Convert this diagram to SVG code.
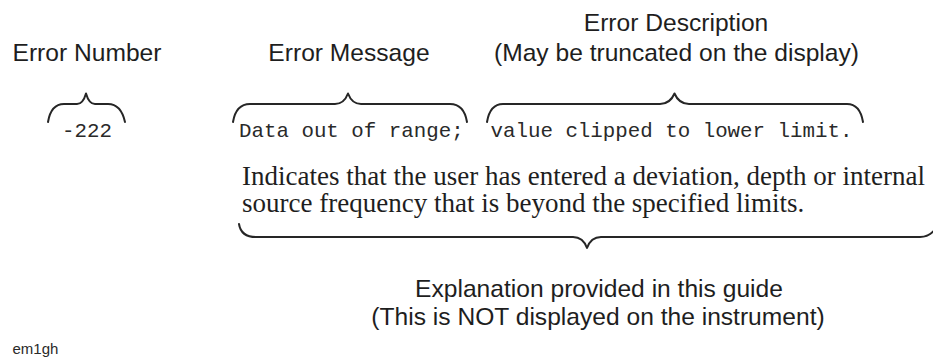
<svg xmlns="http://www.w3.org/2000/svg" width="933" height="358" viewBox="0 0 933 358">
<style>
.h{font-family:"Liberation Sans",Arial,sans-serif;font-size:24.6px;fill:#1e1e1e;text-anchor:middle}
.m{font-family:"Liberation Mono","Courier New",monospace;font-size:20.8px;fill:#2a2a2a}
.s{font-family:"Liberation Serif","Times New Roman",serif;font-size:27px;fill:#1e1e1e}
.f{font-family:"Liberation Sans",Arial,sans-serif;font-size:15px;fill:#2a2a2a}
.b{fill:none;stroke:#262626;stroke-width:2;stroke-linecap:round;stroke-linejoin:round}
</style>
<rect width="933" height="358" fill="#ffffff"/>
<g id="error-number">
<text class="h" x="87" y="61">Error Number</text>
<text class="m" x="62" y="137">-222</text>
</g>
<g id="error-message">
<text class="h" x="349" y="61">Error Message</text>
<text class="m" x="239" y="137">Data out of range;</text>
</g>
<g id="error-description">
<text class="h" x="676" y="31">Error Description</text>
<text class="h" x="676.5" y="61">(May be truncated on the display)</text>
<text class="m" x="490.5" y="137">value clipped to lower limit.</text>
</g>
<g id="explanation-text">
<text class="s" x="242" y="185">Indicates that the user has entered a deviation, depth or internal</text>
<text class="s" x="242" y="212">source frequency that is beyond the specified limits.</text>
</g>
<g id="explanation-label">
<text class="h" x="599" y="297">Explanation provided in this guide</text>
<text class="h" x="598" y="325">(This is NOT displayed on the instrument)</text>
</g>
<g id="figure-id">
<text class="f" x="12.5" y="354">em1gh</text>
</g>
<g id="connectors">
<path class="b" d="M48,122 Q51,104 64,104 L77,104 Q83,104 86,93.5 Q89,104 95,104 L108,104 Q121,104 125,122"/>
<path class="b" d="M233,122 Q236,104 250,104 L335,104 Q344,104 348,93.5 Q352,104 361,104 L450,104 Q464,104 467,122"/>
<path class="b" d="M487,122 Q490,104 503,104 L660,104 Q670,104 674.5,93.5 Q679,104 689,104 L847,104 Q860,104 863,122"/>
<path class="b" d="M239,224 Q241,237 256,237 L573,237 Q583,237 587,248 Q591,237 601,237 L920,237 Q930,237 936,228"/>
</g>
</svg>
